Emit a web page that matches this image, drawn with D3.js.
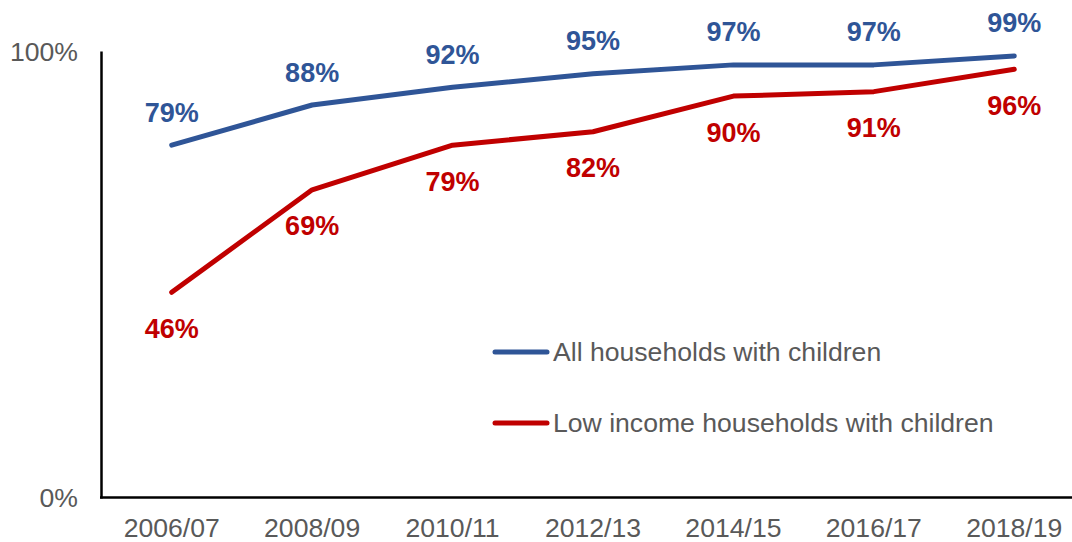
<!DOCTYPE html>
<html>
<head>
<meta charset="utf-8">
<script src="https://cdn.jsdelivr.net/npm/d3@7"></script>
<style>
  html, body { margin: 0; padding: 0; background: #ffffff; }
  svg { display: block; font-family: "Liberation Sans", Arial, sans-serif; }
</style>
</head>
<body>
<svg id="chart" width="1072" height="542"></svg>
<script>
// Survey years
const years = ["2006/07", "2008/09", "2010/11", "2012/13", "2014/15", "2016/17", "2018/19"];
// Share of households with children (%)
const allHouseholds = [79, 88, 92, 95, 97, 97, 99];
const lowIncomeHouseholds = [46, 69, 79, 82, 90, 91, 96];
// Y tick values (%)
const yTicks = [0, 100];
const seriesNames = ["All households with children", "Low income households with children"];
const seriesColors = ["#2F5597", "#C00000"];

const svg = d3.select("#chart");
const textGrey = "#595959";
const textSize = 26.6;

const x = d3.scaleBand().domain(years).range([101.5, 1084.5]).padding(0);
const xc = d => x(d) + x.bandwidth() / 2;
const y = d3.scaleLinear().domain([0, 100]).range([497.5, 51.5]);

// Axes: left and bottom rules
svg.append("line")
  .attr("x1", 101.5).attr("x2", 101.5)
  .attr("y1", y(100)).attr("y2", y(0) + 1)
  .attr("stroke", "#000").attr("stroke-width", 2.5);
svg.append("line")
  .attr("x1", 100).attr("x2", x.range()[1])
  .attr("y1", y(0)).attr("y2", y(0))
  .attr("stroke", "#000").attr("stroke-width", 2.5);

// Y tick labels
svg.selectAll(".ytick").data(yTicks).enter().append("text")
  .attr("class", "ytick")
  .attr("x", 78).attr("y", d => y(d) + 9)
  .attr("text-anchor", "end")
  .attr("font-size", textSize).attr("fill", textGrey)
  .text(d => d + "%");

// X tick labels
svg.selectAll(".xtick").data(years).enter().append("text")
  .attr("class", "xtick")
  .attr("x", d => xc(d)).attr("y", 537)
  .attr("text-anchor", "middle")
  .attr("font-size", textSize).attr("fill", textGrey)
  .text(d => d);

const line = d3.line().x((d, i) => xc(years[i])).y(d => y(d));

const series = [
  { values: allHouseholds, color: seriesColors[0], dy: -23.5 },
  { values: lowIncomeHouseholds, color: seriesColors[1], dy: 45.5 }
];

series.forEach(s => {
  svg.append("path")
    .datum(s.values)
    .attr("d", line)
    .attr("fill", "none")
    .attr("stroke", s.color)
    .attr("stroke-width", 5)
    .attr("stroke-linecap", "round")
    .attr("stroke-linejoin", "round");

  svg.selectAll(null).data(s.values).enter().append("text")
    .attr("x", (d, i) => xc(years[i]))
    .attr("y", d => y(d) + s.dy)
    .attr("text-anchor", "middle")
    .attr("font-size", 27).attr("font-weight", "bold")
    .attr("fill", s.color)
    .text(d => d + "%");
});

// Legend
const legend = svg.append("g");
seriesNames.forEach((name, i) => {
  const ly = 352 + i * 71;
  legend.append("line")
    .attr("x1", 495).attr("x2", 547)
    .attr("y1", ly).attr("y2", ly)
    .attr("stroke", seriesColors[i]).attr("stroke-width", 5)
    .attr("stroke-linecap", "round");
  legend.append("text")
    .attr("x", 553).attr("y", ly + 9)
    .attr("font-size", textSize).attr("fill", textGrey)
    .text(name);
});
</script>
</body>
</html>
